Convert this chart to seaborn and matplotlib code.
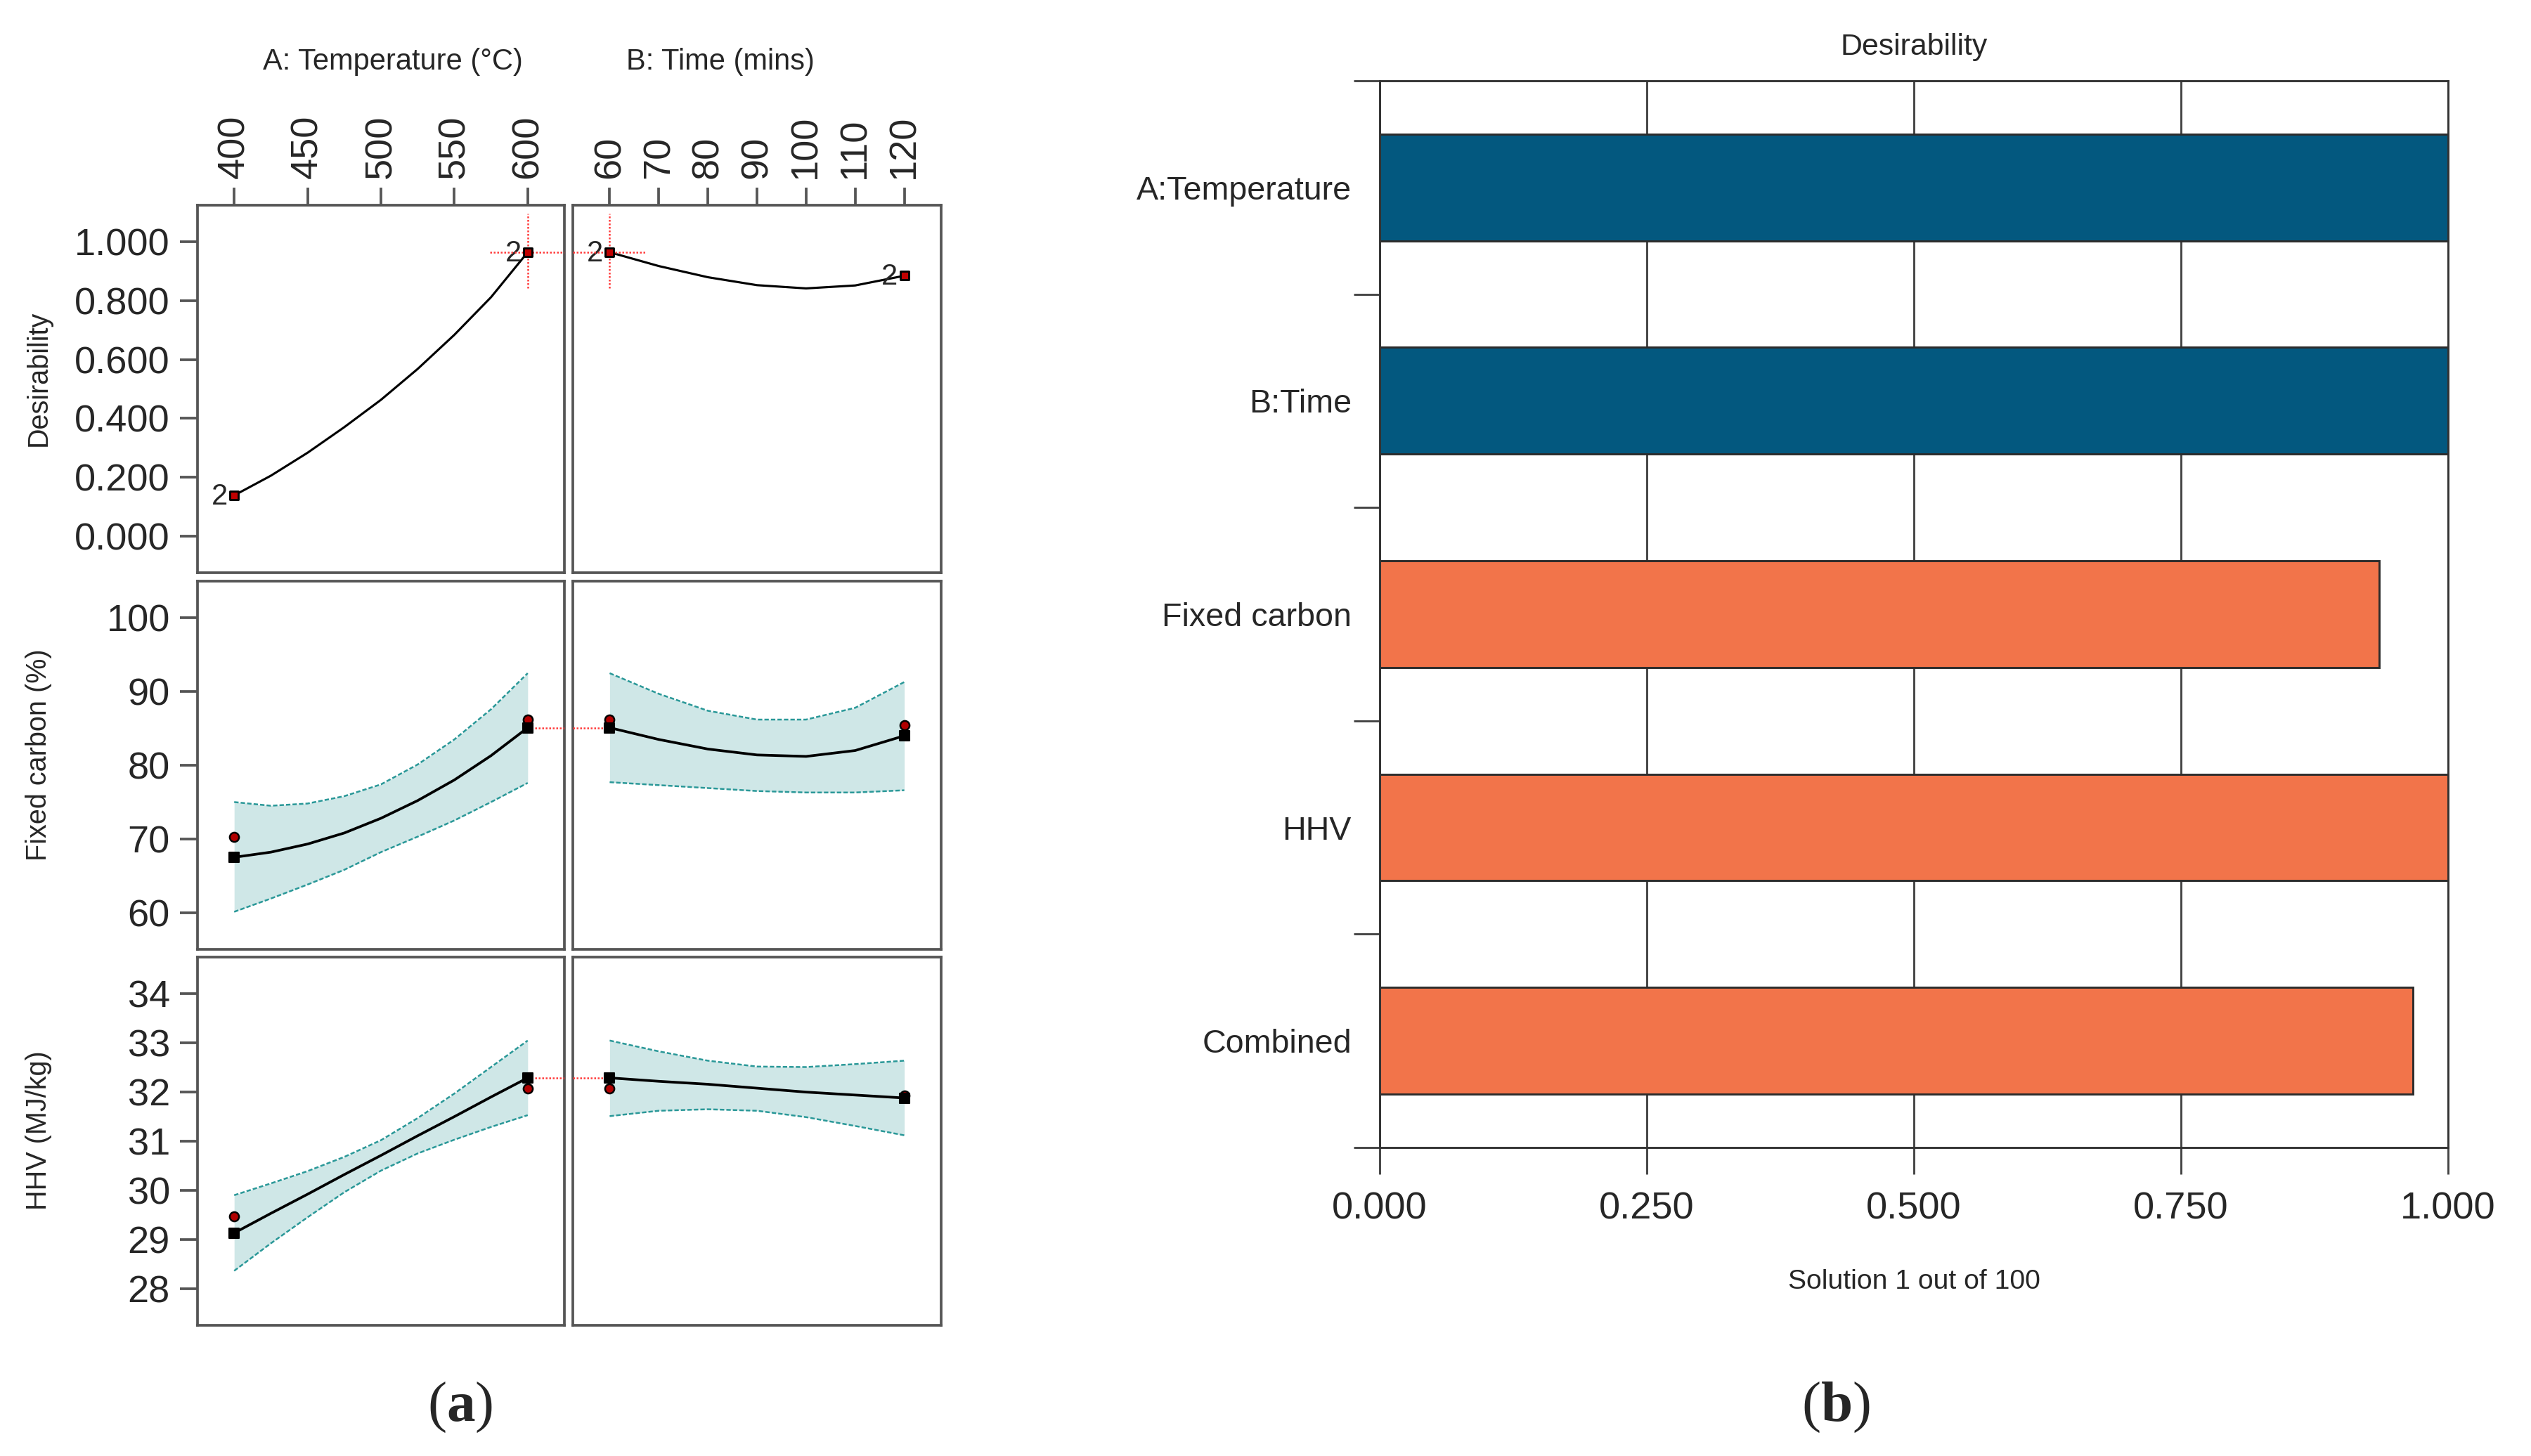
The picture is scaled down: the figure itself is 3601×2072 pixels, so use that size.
import matplotlib
matplotlib.use("Agg")
import pandas as pd
import seaborn as sns
import matplotlib.pyplot as plt

# ---- values ----
temp_grid = [400, 425, 450, 475, 500, 525, 550, 575, 600]
time_grid = [60, 70, 80, 90, 100, 110, 120]

# desirability traces
desir_temp = [0.138, 0.205, 0.283, 0.370, 0.463, 0.568, 0.684, 0.812, 0.965]
desir_time = [0.965, 0.918, 0.880, 0.853, 0.842, 0.852, 0.885]

# fixed carbon (%) prediction and 95% band
fc_temp = [67.5, 68.2, 69.3, 70.8, 72.8, 75.2, 78.0, 81.3, 85.1]
fc_temp_hi = [75.0, 74.5, 74.8, 75.8, 77.4, 80.1, 83.5, 87.6, 92.5]
fc_temp_lo = [60.1, 61.9, 63.8, 65.8, 68.2, 70.3, 72.5, 75.0, 77.6]
fc_time = [85.1, 83.5, 82.2, 81.4, 81.2, 82.0, 84.0]
fc_time_hi = [92.5, 89.7, 87.4, 86.2, 86.2, 87.8, 91.3]
fc_time_lo = [77.7, 77.3, 76.9, 76.5, 76.3, 76.3, 76.6]

# HHV (MJ/kg) prediction and 95% band
hhv_temp = [29.13, 29.53, 29.92, 30.32, 30.71, 31.11, 31.50, 31.90, 32.29]
hhv_temp_hi = [29.90, 30.14, 30.39, 30.68, 31.02, 31.47, 31.97, 32.51, 33.05]
hhv_temp_lo = [28.36, 28.92, 29.45, 29.96, 30.40, 30.75, 31.03, 31.29, 31.53]
hhv_time = [32.29, 32.22, 32.16, 32.08, 32.00, 31.94, 31.88]
hhv_time_hi = [33.05, 32.83, 32.64, 32.52, 32.51, 32.57, 32.64]
hhv_time_lo = [31.51, 31.62, 31.65, 31.62, 31.49, 31.31, 31.12]

# design points (red dots)
design_temp = [400, 600]
design_time = [60, 120]
fc_pts_temp = [70.3, 86.2]
fc_pts_time = [86.2, 85.4]
hhv_pts_temp = [29.47, 32.08]
hhv_pts_time = [32.08, 31.93]

# optimum
opt_temp, opt_time = 600, 60

# bar chart (b)
bar_labels = ["A:Temperature", "B:Time", "Fixed carbon", "HHV", "Combined"]
bar_values = [1.0, 1.0, 0.9355, 1.0, 0.967]
bar_colors = ["#03587f", "#03587f", "#f2744a", "#f2744a", "#f2744a"]

# ---- figure ----
sns.set_style("white")
plt.rcParams["font.family"] = ["Liberation Sans", "DejaVu Sans"]
plt.rcParams["mathtext.fontset"] = "custom"
plt.rcParams["mathtext.rm"] = "Liberation Serif"
plt.rcParams["mathtext.bf"] = "Liberation Serif:bold"

W, H, DPI = 3601, 2072, 300
fig = plt.figure(figsize=(W / DPI, H / DPI), dpi=DPI)


def box(l, t, r, b):
    return [l / W, 1 - b / H, (r - l) / W, (b - t) / H]


FRAME = "#555555"
BAND = "#cfe7e7"
BAND_EDGE = "#2a9898"
RED = "#ff3b3b"

col_x = [(281, 803), (815, 1339)]
row_y = [(292, 815), (827, 1351), (1362, 1886)]
xlims = [(375, 625), (52.5, 127.5)]
xticks = [[400, 450, 500, 550, 600], [60, 70, 80, 90, 100, 110, 120]]
ylims = [(-0.125, 1.125), (55, 105), (27.25, 34.75)]
yticks = [[0, 0.2, 0.4, 0.6, 0.8, 1.0], [60, 70, 80, 90, 100], [28, 29, 30, 31, 32, 33, 34]]
ylabels = ["Desirability", "Fixed carbon (%)", "HHV (MJ/kg)"]

grids = [temp_grid, time_grid]
desir = [desir_temp, desir_time]
lines = {1: [fc_temp, fc_time], 2: [hhv_temp, hhv_time]}
his = {1: [fc_temp_hi, fc_time_hi], 2: [hhv_temp_hi, hhv_time_hi]}
los = {1: [fc_temp_lo, fc_time_lo], 2: [hhv_temp_lo, hhv_time_lo]}
design = [design_temp, design_time]
pts = {1: [fc_pts_temp, fc_pts_time], 2: [hhv_pts_temp, hhv_pts_time]}
opt_x = [opt_temp, opt_time]

for r in range(3):
    for c in range(2):
        ax = fig.add_axes(box(col_x[c][0], row_y[r][0], col_x[c][1], row_y[r][1]))
        ax.set_xlim(*xlims[c])
        ax.set_ylim(*ylims[r])
        for s in ax.spines.values():
            s.set_color(FRAME)
            s.set_linewidth(0.9)
        g = grids[c]
        x0, x1 = xlims[c]

        if r == 0:
            y = desir[c]
            sns.lineplot(x=g, y=y, color="black", lw=0.75, ax=ax)
            ends_x = [g[0], g[-1]]
            ends_y = [y[0], y[-1]]
            sns.scatterplot(x=ends_x, y=ends_y, marker="s", s=8, color="#c00000",
                            edgecolor="black", linewidth=0.7, ax=ax, zorder=5)
            for ex, ey in zip(ends_x, ends_y):
                ax.annotate("2", (ex, ey), xytext=(-2.2, -0.5), textcoords="offset points",
                            ha="right", va="center", fontsize=10)
            # optimum crosshair
            oy = y[0] if c == 1 else y[-1]
            ax.plot([opt_x[c], opt_x[c]], [0.842, 1.097], color=RED, lw=0.6, ls=(0, (1, 1)), zorder=4)
            if c == 0:
                ax.plot([574, x1], [oy, oy], color=RED, lw=0.6, ls=(0, (1, 1)), zorder=4)
            else:
                ax.plot([x0, 67.5], [oy, oy], color=RED, lw=0.6, ls=(0, (1, 1)), zorder=4)
        else:
            y = lines[r][c]
            ax.fill_between(g, los[r][c], his[r][c], color=BAND, lw=0)
            ax.plot(g, his[r][c], color=BAND_EDGE, lw=0.6, dashes=(2.5, 1.2))
            ax.plot(g, los[r][c], color=BAND_EDGE, lw=0.6, dashes=(2.5, 1.2))
            sns.lineplot(x=g, y=y, color="black", lw=0.9, ax=ax)
            sns.scatterplot(x=design[c], y=pts[r][c], marker="o", s=10, color="#b00000",
                            edgecolor="black", linewidth=0.6, ax=ax, zorder=5)
            sns.scatterplot(x=[g[0], g[-1]], y=[y[0], y[-1]], marker="s", s=10, color="black",
                            edgecolor="black", linewidth=0.5, ax=ax, zorder=6)
            oy = y[-1] if c == 0 else y[0]
            if c == 0:
                ax.plot([opt_x[c], x1], [oy, oy], color=RED, lw=0.6, ls=(0, (1, 1)), zorder=4)
            else:
                ax.plot([x0, opt_x[c]], [oy, oy], color=RED, lw=0.6, ls=(0, (1, 1)), zorder=4)

        ax.set_xlabel("")
        ax.set_ylabel("")
        if r == 0:
            ax.set_xticks(xticks[c])
            ax.xaxis.tick_top()
            ax.tick_params(axis="x", top=True, labeltop=True, bottom=False, labelbottom=False,
                           labelrotation=90, length=6, width=0.9, color=FRAME, labelsize=13, pad=3)
        else:
            ax.set_xticks([])
        if c == 0:
            ax.set_yticks(yticks[r])
            if r == 0:
                ax.set_yticklabels([f"{v:.3f}" for v in yticks[r]])
            ax.tick_params(axis="y", left=True, length=6, width=0.9, color=FRAME, labelsize=13, pad=3.4)
            yc = (row_y[r][0] + row_y[r][1]) / 2 - 15
            fig.text(55 / W, 1 - yc / H, ylabels[r], rotation=90, fontsize=9.5, ha="center", va="center")
        else:
            ax.set_yticks([])

fig.text(559 / W, 1 - 88 / H, "A: Temperature (°C)", fontsize=10, ha="center", va="center")
fig.text(1025 / W, 1 - 88 / H, "B: Time (mins)", fontsize=10, ha="center", va="center")

# ---- (b) desirability bars ----
axb = fig.add_axes(box(1963, 115, 3483, 1633))
bars = pd.DataFrame({"factor": bar_labels, "desirability": bar_values})
sns.barplot(data=bars, x="desirability", y="factor", hue="factor", palette=bar_colors,
            saturation=1, legend=False, width=0.5, edgecolor="#2b2b2b", linewidth=0.7, ax=axb)
axb.set_xlim(0, 1)
axb.set_ylim(4.5, -0.5)
axb.set_xticks([0, 0.25, 0.5, 0.75, 1.0])
axb.set_xticklabels([f"{v:.3f}" for v in [0, 0.25, 0.5, 0.75, 1.0]])
axb.xaxis.grid(True, color="#444444", lw=0.7)
axb.set_axisbelow(True)
axb.set_yticks(range(len(bar_labels)))
axb.set_yticks([i - 0.5 for i in range(len(bar_labels) + 1)], minor=True)
axb.tick_params(axis="y", which="major", length=0, pad=9.6, labelsize=11.2)
axb.tick_params(axis="y", which="minor", left=True, length=9, width=0.7, color="#444444")
axb.tick_params(axis="x", bottom=True, length=9, width=0.7, color="#444444", labelsize=13, pad=6)
for s in axb.spines.values():
    s.set_color("#333333")
    s.set_linewidth(0.7)
axb.set_ylabel("")
axb.set_xlabel("")
fig.text(2723 / W, 1 - 67 / H, "Desirability", fontsize=10.3, ha="center", va="center")
fig.text(2723 / W, 1 - 1824 / H, "Solution 1 out of 100", fontsize=9.4, ha="center", va="center")

fig.text(655 / W, 1 - 2003 / H, r"($\mathbf{a}$)", fontsize=19.5, family="Liberation Serif",
         ha="center", va="center")
fig.text(2612 / W, 1 - 2003 / H, r"($\mathbf{b}$)", fontsize=19.5, family="Liberation Serif",
         ha="center", va="center")

fig.savefig("out.png", dpi=DPI)
